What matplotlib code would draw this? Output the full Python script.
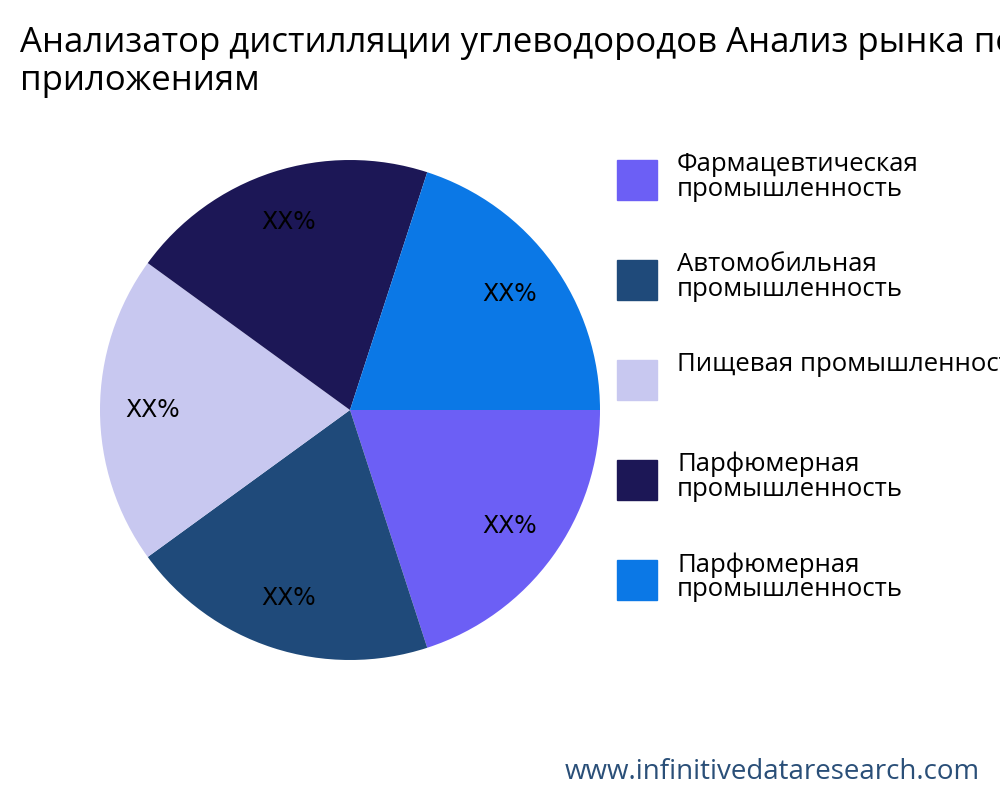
import matplotlib
matplotlib.use("Agg")
import matplotlib.pyplot as plt
from matplotlib.patches import Rectangle

plt.rcParams['font.family'] = ['Open Sans', 'DejaVu Sans']

categories = ["Фармацевтическая\nпромышленность", "Автомобильная\nпромышленность",
              "Пищевая промышленность", "Парфюмерная\nпромышленность",
              "Парфюмерная\nпромышленность"]
values = [20, 20, 20, 20, 20]
colors = ["#6c5ff5", "#1f4a7a", "#c8c8f0", "#1c1756", "#0b78e6"]
title = "Анализатор дистилляции углеводородов Анализ рынка по\nприложениям"

fig = plt.figure(figsize=(10, 8), dpi=100)
ax = fig.add_axes([0.1, 0.175, 0.5, 0.625])
ax.pie(values, colors=colors, startangle=0, counterclock=False,
       autopct=lambda p: "XX%", pctdistance=0.79,
       textprops=dict(fontsize=17, color="black", family=["DejaVu Sans"]))
ax.set_xlim(-1, 1)
ax.set_ylim(-1, 1)
ax.set_aspect('equal')

fig.text(0.02, 0.968, title, fontsize=25, va='top', ha='left', linespacing=1.15)

ys = [0.775, 0.65, 0.525, 0.4, 0.275]
for cat, col, y in zip(categories, colors, ys):
    fig.patches.append(Rectangle((0.617, y - 0.025), 0.04, 0.05, color=col,
                                 transform=fig.transFigure, figure=fig))
    fig.text(0.677, y + 0.035, cat, fontsize=18.5, va='top', ha='left', linespacing=1.0)

fig.text(0.98, 0.035, "www.infinitivedataresearch.com", fontsize=20,
         color="#2a4f78", ha='right', va='center')

fig.savefig("out.png", dpi=100)
